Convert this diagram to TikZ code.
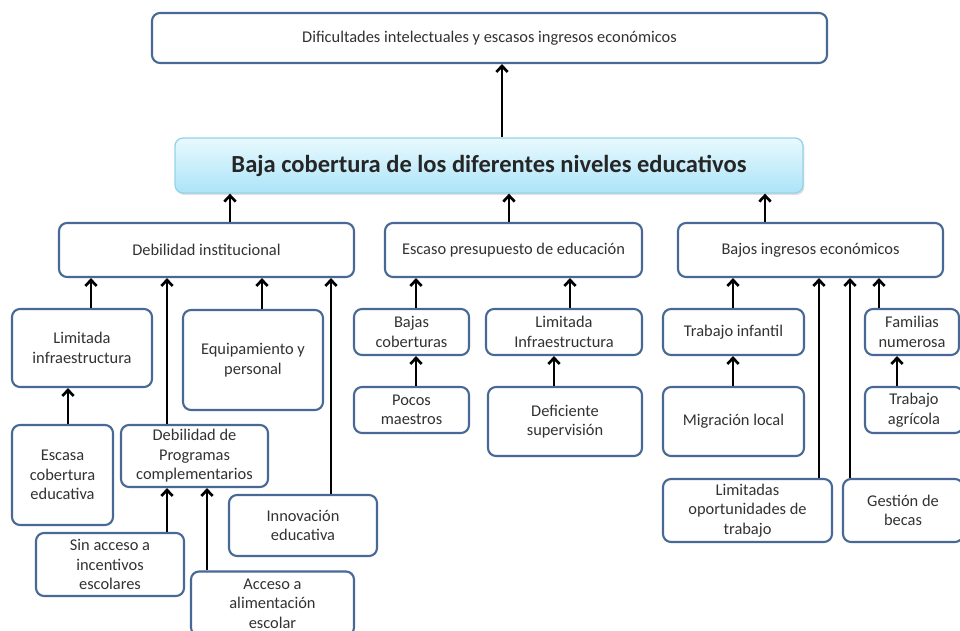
\documentclass[tikz,border=0pt]{standalone}
\usepackage{fontspec}
\setmainfont{Carlito}
\usetikzlibrary{arrows.meta,shadows}
\definecolor{boxline}{RGB}{72,104,150}
\definecolor{txt}{RGB}{50,50,50}
\definecolor{skytop}{RGB}{232,249,254}
\definecolor{skybot}{RGB}{172,228,248}
\definecolor{skyline}{RGB}{150,210,232}
\begin{document}
\begin{tikzpicture}[x=0.75pt,y=-0.75pt,
    sz/.style 2 args={minimum width=#1*0.75pt,minimum height=#2*0.75pt},
    box/.style={draw=boxline,line width=1.6pt,rounded corners=6pt,fill=white,
      text=txt,align=center,inner sep=2pt,font=\fontsize{12.3}{14.6}\selectfont},
    mainbox/.style={draw=skyline,line width=1pt,rounded corners=6pt,
      top color=skytop,bottom color=skybot,
      drop shadow={opacity=0.25,shadow xshift=1pt,shadow yshift=-1.5pt},
      font=\fontsize{18.4}{20}\selectfont\bfseries,text=black!85},
    arr/.style={-{Straight Barb[length=4.5pt,width=8.5pt]},line width=2pt,black}]
    \useasboundingbox (0,0) rectangle (960,631);
    \clip (0,0) rectangle (960,631);
    % columns of the arrows
    \coordinate (t0) at (502,0);
    \coordinate (t1) at (230,0);
    \coordinate (t2) at (509,0);
    \coordinate (t3) at (765,0);
    \coordinate (l1) at (91,0);
    \coordinate (l2) at (167,0);
    \coordinate (l3) at (262,0);
    \coordinate (l4) at (331,0);
    \coordinate (l5) at (68,0);
    \coordinate (l6) at (207,0);
    \coordinate (m1) at (416,0);
    \coordinate (m2) at (570,0);
    \coordinate (m3) at (554,0);
    \coordinate (r1) at (733,0);
    \coordinate (r2) at (819,0);
    \coordinate (r3) at (850,0);
    \coordinate (r4) at (879,0);
    \coordinate (r5) at (897,0);
    % top
    \node[box,sz={675}{50}] (dif) at (489.5,38) {Dificultades intelectuales y escasos ingresos económicos};
    \node[mainbox,sz={628}{55}] (baja) at (489,165.5) {Baja cobertura de los diferentes niveles educativos};
    % second row
    \node[box,sz={295}{54}] (di) at (206.5,250) {Debilidad institucional};
    \node[box,sz={257}{54}] (esc) at (513.5,250) {Escaso presupuesto de educación};
    \node[box,sz={265}{54}] (bajos) at (810.5,250) {Bajos ingresos económicos};
    % left branch
    \node[box,sz={140}{78}] (lim) at (82,348) {Limitada\\infraestructura};
    \node[box,sz={140}{100}] (equip) at (253,360) {Equipamiento y\\personal};
    \node[box,sz={101}{100}] (escasa) at (62.5,475) {Escasa\\cobertura\\educativa};
    \node[box,sz={147}{62}] (prog) at (194.5,456) {Debilidad de\\Programas\\complementarios};
    \node[box,sz={148}{61}] (innov) at (303,525.5) {Innovación\\educativa};
    \node[box,sz={148}{63}] (sin) at (110,564.5) {Sin acceso a\\incentivos\\escolares};
    \node[box,sz={163}{64}] (acc) at (272.5,603.5) {Acceso a\\alimentación\\escolar};
    % middle branch
    \node[box,sz={115}{46}] (bajc) at (411.5,332) {Bajas\\coberturas};
    \node[box,sz={156}{46}] (limi) at (564,332) {Limitada\\Infraestructura};
    \node[box,sz={115}{46}] (pocos) at (411.5,410) {Pocos\\maestros};
    \node[box,sz={154}{69}] (defi) at (565,421.5) {Deficiente\\supervisión};
    % right branch
    \node[box,sz={141}{46}] (trab) at (733.5,332) {Trabajo infantil};
    \node[box,sz={141}{69}] (migr) at (733.5,421.5) {Migración local};
    \node[box,sz={94}{46}] (fam) at (912,332) {Familias\\numerosa};
    \node[box,sz={98}{46}] (agri) at (914,410) {Trabajo\\agrícola};
    \node[box,sz={169}{63}] (limop) at (747.5,510.5) {Limitadas\\oportunidades de\\trabajo};
    \node[box,sz={120}{63}] (gest) at (903,510.5) {Gestión de\\becas};
    % arrows
    \draw[arr] (baja.north -| t0) -- (dif.south -| t0);
    \draw[arr] (di.north -| t1) -- (baja.south -| t1);
    \draw[arr] (esc.north -| t2) -- (baja.south -| t2);
    \draw[arr] (bajos.north -| t3) -- (baja.south -| t3);
    \draw[arr] (lim.north -| l1) -- (di.south -| l1);
    \draw[arr] (prog.north -| l2) -- (di.south -| l2);
    \draw[arr] (equip.north -| l3) -- (di.south -| l3);
    \draw[arr] (innov.north -| l4) -- (di.south -| l4);
    \draw[arr] (escasa.north -| l5) -- (lim.south -| l5);
    \draw[arr] (sin.north -| l2) -- (prog.south -| l2);
    \draw[arr] (acc.north -| l6) -- (prog.south -| l6);
    \draw[arr] (bajc.north -| m1) -- (esc.south -| m1);
    \draw[arr] (pocos.north -| m1) -- (bajc.south -| m1);
    \draw[arr] (limi.north -| m2) -- (esc.south -| m2);
    \draw[arr] (defi.north -| m3) -- (limi.south -| m3);
    \draw[arr] (trab.north -| r1) -- (bajos.south -| r1);
    \draw[arr] (migr.north -| r1) -- (trab.south -| r1);
    \draw[arr] (limop.north -| r2) -- (bajos.south -| r2);
    \draw[arr] (gest.north -| r3) -- (bajos.south -| r3);
    \draw[arr] (fam.north -| r4) -- (bajos.south -| r4);
    \draw[arr] (agri.north -| r5) -- (fam.south -| r5);
\end{tikzpicture}
\end{document}
